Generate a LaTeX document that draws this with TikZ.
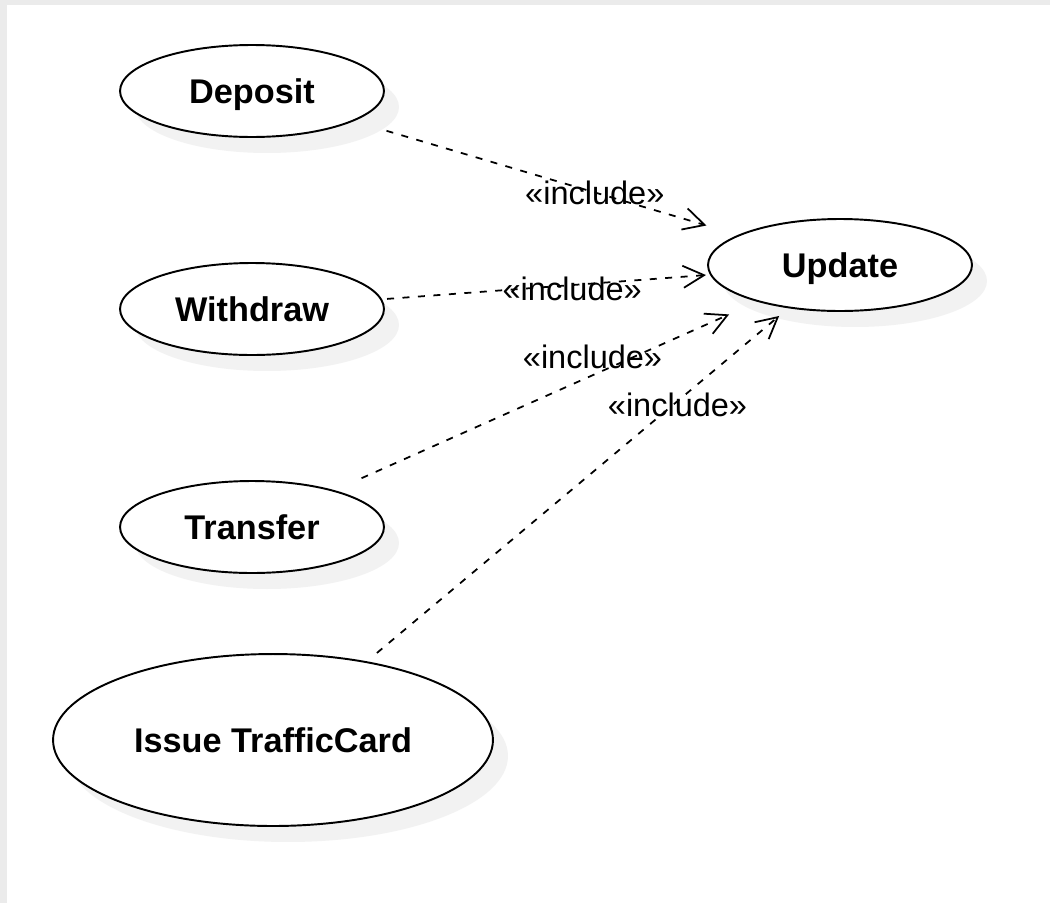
\documentclass[tikz,border=0pt]{standalone}
\usepackage{fontspec}
\setmainfont{Liberation Sans}
\usetikzlibrary{arrows.meta,shadows,shapes.geometric}

\tikzstyle{uS}=[ellipse,draw,line width=1.1pt,fill=white,inner sep=0pt,text height=14pt,text depth=0pt,font=\fontsize{19.5}{23}\selectfont\bfseries,drop shadow={shadow xshift=0.3cm,shadow yshift=-0.32cm,fill=black!5,opacity=1}]
\tikzstyle{incS}=[line width=1pt,dash pattern=on 0.14cm off 0.17cm,-{Straight Barb[length=0.42cm,width=0.44cm]}]
\tikzstyle{incL}=[inner sep=0pt,font=\fontsize{18.5}{22}\selectfont]

\begin{document}
\begin{tikzpicture}[x=0.02cm,y=-0.02cm]
    \fill[black!8] (0,0) rectangle (1050,903);
    \fill[white] (7,5) rectangle (1050,903);
    \useasboundingbox (0,0) rectangle (1050,903);
    \draw (252,91) node[uS,minimum width=5.28cm,minimum height=1.84cm] (dep) {Deposit};
    \draw (252,309) node[uS,minimum width=5.28cm,minimum height=1.84cm] (wit) {Withdraw};
    \draw (252,527) node[uS,minimum width=5.28cm,minimum height=1.84cm] (tra) {Transfer};
    \draw (273,740) node[uS,minimum width=8.8cm,minimum height=3.44cm] (iss) {Issue TrafficCard};
    \draw (840,265) node[uS,minimum width=5.28cm,minimum height=1.84cm] (upd) {Update};
    \path
        (dep) edge[incS,shorten <=0.68cm,shorten >=0.66cm] node[incL,pos=0.627]{«include»} (upd)
        (wit) edge[incS,shorten <=0.1cm,shorten >=0.08cm] node[incL,pos=0.58,yshift=-0.08cm]{«include»} (upd)
        (tra) edge[incS,shorten <=0.59cm,shorten >=0.62cm] node[incL,pos=0.61,yshift=0.36cm]{«include»} (upd)
        (iss) edge[incS,shorten <=0.26cm,shorten >=0.24cm] node[incL,pos=0.737,yshift=-0.08cm]{«include»} (upd)
    ;
\end{tikzpicture}
\end{document}
